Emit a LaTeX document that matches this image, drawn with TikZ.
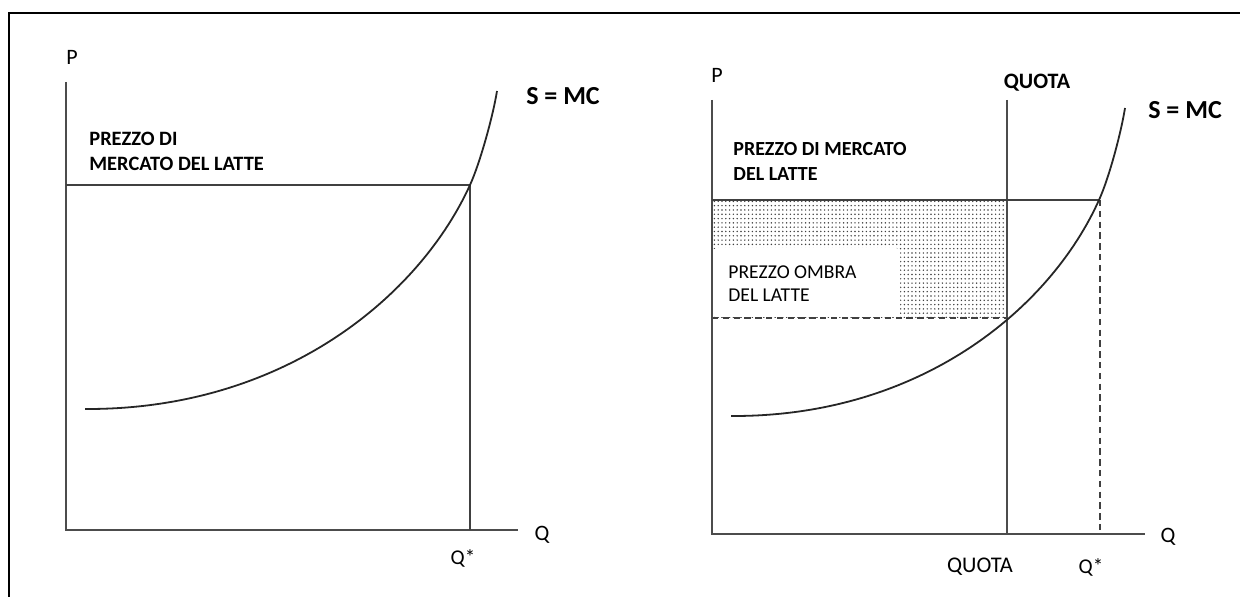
\documentclass[tikz,border=0pt]{standalone}
\usepackage{fontspec}
\setmainfont{Carlito}
\usetikzlibrary{patterns.meta}

\tikzdeclarepattern{name=shadowdots, type=uncolored,
  bottom left={(-.5pt,-.5pt)}, top right={(1.4pt,1.65pt)},
  tile size={(1.9pt,2.15pt)},
  code={\fill (0,0) circle (.4pt);}}

\begin{document}
\begin{tikzpicture}[x=0.5pt, y=-0.5pt,
  axis/.style={draw=black!70, line width=1.1pt},
  guide/.style={draw=black!75, line width=0.8pt},
  dashguide/.style={draw=black!75, line width=0.8pt, dash pattern=on 3.2pt off 2.2pt},
  supply/.style={draw=black!85, line width=0.9pt},
  axislabel/.style={font=\fontsize{11}{13}\selectfont, inner sep=0pt},
  curvelabel/.style={font=\fontsize{13}{15}\selectfont\bfseries, inner sep=0pt},
  pricelabel/.style={font=\fontsize{10.2}{12.2}\selectfont\bfseries, align=left, inner sep=0pt, anchor=north west}]
  \useasboundingbox (0,0) rectangle (1240,597);
  % frame
  \draw[line width=1pt] (9,597) -- (9,13) -- (1240,13);

  % left: no quota
  \draw[axis] (66,82) -- (66,530) -- (518,530);
  \draw[guide] (66,185) -- (470,185) -- (470,530);
  \draw[supply] (85,409) .. controls (285,410) and (420,295) .. (470,185)
    .. controls (480,163) and (493,116) .. (497,91);
  \node[axislabel] (pleft) at (72,57) {P};
  \node[axislabel] (qleft) at (542,535) {Q};
  \node[axislabel, font=\fontsize{10.5}{12}\selectfont] (qstarleft) at (463,558) {Q*};
  \node[curvelabel] (mcleft) at (563,96) {S = MC};
  \node[pricelabel] (marketleft) at (89,132) {PREZZO DI\\MERCATO DEL LATTE};

  % right: with quota
  \fill[pattern={shadowdots}, pattern color=black!75] (712,200) rectangle (1007,318);
  \fill[white, rounded corners=2pt] (713,248) rectangle (900,317);
  \draw[dashguide] (712,318) -- (1007,318);
  \draw[axis] (712,100) -- (712,534) -- (1145,534);
  \draw[axis] (1007,100) -- (1007,534);
  \draw[guide] (712,200) -- (1099,200);
  \draw[dashguide] (1100,200) -- (1100,534);
  \draw[supply] (731,416) .. controls (922,417) and (1051,307) .. (1099,200)
    .. controls (1109,178) and (1121,133) .. (1125,108);
  \node[axislabel] (pright) at (717,75) {P};
  \node[axislabel] (qright) at (1168,537) {Q};
  \node[axislabel, font=\fontsize{10.5}{12}\selectfont] (qstarright) at (1091,567) {Q*};
  \node[axislabel, font=\fontsize{11.2}{13}\selectfont] (quotabottom) at (980,567) {QUOTA};
  \node[curvelabel, font=\fontsize{11}{13}\selectfont\bfseries] (quotatop) at (1037,83) {QUOTA};
  \node[curvelabel] (mcright) at (1185,110) {S = MC};
  \node[pricelabel, font=\fontsize{10}{12.5}\selectfont\bfseries] (marketright) at (733,142) {PREZZO DI MERCATO\\DEL LATTE};
  \node[pricelabel, font=\fontsize{9.8}{11.8}\selectfont] (shadow) at (728,265) {PREZZO OMBRA\\DEL LATTE};
\end{tikzpicture}
\end{document}
